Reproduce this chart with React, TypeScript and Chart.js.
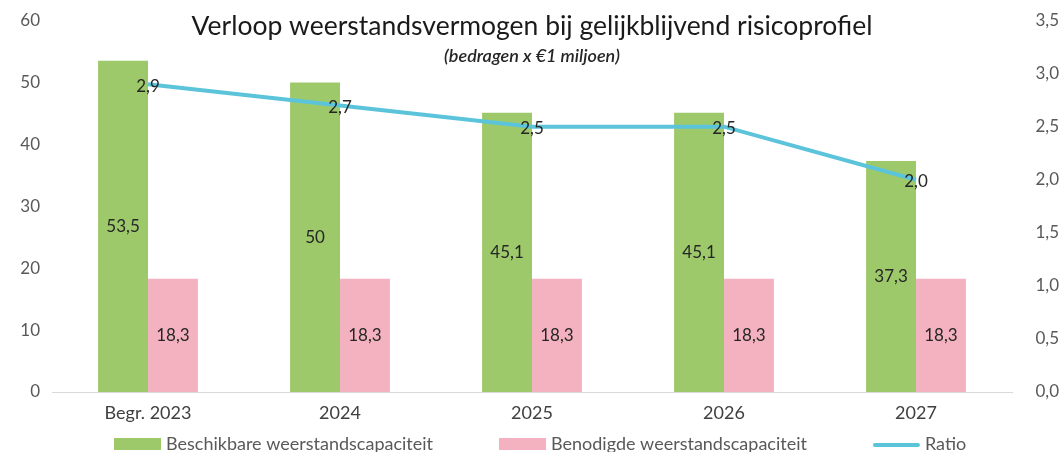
import React, { useEffect, useRef } from "react";
import { Chart, registerables } from "chart.js";

Chart.register(...registerables);

const categories = ["Begr. 2023", "2024", "2025", "2026", "2027"];
const beschikbaar = [53.5, 50, 45.1, 45.1, 37.3];
const benodigd = [18.3, 18.3, 18.3, 18.3, 18.3];
const ratio = [2.9, 2.7, 2.5, 2.5, 2.0];
const leftTicks = [0, 10, 20, 30, 40, 50, 60];
const rightTicks = [0, 0.5, 1, 1.5, 2, 2.5, 3, 3.5];

const TITLE = "Verloop weerstandsvermogen bij gelijkblijvend risicoprofiel";
const SUBTITLE = "(bedragen x €1 miljoen)";
const FONT = "Lato, 'Open Sans', sans-serif";

const GREEN = "#9DC96B";
const PINK = "#F4B2C0";
const BLUE = "#5BC4DA";

const fmt = (v: number, d: number) => v.toFixed(d).replace(".", ",");

const labelsPlugin = {
  id: "valueLabels",
  afterDatasetsDraw(chart: any) {
    const ctx = chart.ctx;
    ctx.save();
    ctx.textAlign = "center";
    ctx.textBaseline = "middle";
    ctx.fillStyle = "#262626";
    ctx.font = `17px ${FONT}`;
    chart.data.datasets.forEach((ds: any, di: number) => {
      const meta = chart.getDatasetMeta(di);
      meta.data.forEach((el: any, i: number) => {
        const v = ds.data[i];
        if (ds.type === "line") {
          ctx.fillText(fmt(v, 1), el.x, el.y + 2);
        } else {
          const txt = Number.isInteger(v) ? String(v) : fmt(v, 1);
          ctx.fillText(txt, el.x, (el.y + el.base) / 2);
        }
      });
    });
    ctx.restore();
  },
};

const titlePlugin = {
  id: "titleText",
  afterDraw(chart: any) {
    const ctx = chart.ctx;
    const cx = (chart.chartArea.left + chart.chartArea.right) / 2;
    ctx.save();
    ctx.textAlign = "center";
    ctx.textBaseline = "middle";
    ctx.fillStyle = "#1a1a1a";
    ctx.font = `26.5px ${FONT}`;
    ctx.fillText(TITLE, cx, 26);
    ctx.font = `italic 600 18px ${FONT}`;
    ctx.fillStyle = "#262626";
    ctx.fillText(SUBTITLE, cx, 56);
    ctx.restore();
  },
};

const legendPlugin = {
  id: "customLegend",
  afterDraw(chart: any) {
    const ctx = chart.ctx;
    const y = 444;
    let x = 114;
    const boxW = 47;
    ctx.save();
    ctx.font = `18px ${FONT}`;
    ctx.textBaseline = "middle";
    ctx.textAlign = "left";
    chart.data.datasets.forEach((ds: any) => {
      if (ds.type === "line") {
        ctx.strokeStyle = ds.borderColor;
        ctx.lineWidth = 4;
        ctx.lineCap = "round";
        ctx.beginPath();
        ctx.moveTo(x + 2, y + 1);
        ctx.lineTo(x + boxW - 2, y + 1);
        ctx.stroke();
      } else {
        ctx.fillStyle = ds.backgroundColor;
        ctx.fillRect(x, y - 6, boxW, 12);
      }
      ctx.fillStyle = "#595959";
      const tx = x + boxW + 5;
      ctx.fillText(ds.label, tx, y);
      x = tx + ctx.measureText(ds.label).width + 66;
    });
    ctx.restore();
  },
};

export default function App() {
  const ref = useRef<HTMLCanvasElement | null>(null);
  useEffect(() => {
    if (!ref.current) return;
    const chart = new Chart(ref.current, {
      type: "bar",
      data: {
        labels: categories,
        datasets: [
          {
            type: "bar",
            label: "Beschikbare weerstandscapaciteit",
            data: beschikbaar,
            backgroundColor: GREEN,
            yAxisID: "y",
            order: 1,
            categoryPercentage: 0.52,
            barPercentage: 1,
          },
          {
            type: "bar",
            label: "Benodigde weerstandscapaciteit",
            data: benodigd,
            backgroundColor: PINK,
            yAxisID: "y",
            order: 1,
            categoryPercentage: 0.52,
            barPercentage: 1,
          },
          {
            type: "line",
            label: "Ratio",
            data: ratio,
            borderColor: BLUE,
            backgroundColor: BLUE,
            borderWidth: 4,
            pointRadius: 0,
            tension: 0,
            yAxisID: "y1",
            order: 0,
          } as any,
        ],
      },
      options: {
        animation: false,
        responsive: true,
        maintainAspectRatio: false,
        layout: { padding: { top: 20, bottom: 30, left: 0, right: 4 } },
        plugins: {
          legend: { display: false },
          tooltip: { enabled: false },
          title: { display: false },
        },
        scales: {
          x: {
            grid: { display: false, drawTicks: false },
            border: { display: true, color: "#D9D9D9", width: 1 },
            ticks: {
              color: "#404040",
              font: { family: FONT, size: 18 },
              padding: 10,
              maxRotation: 0,
            },
            afterFit: (s: any) => {
              s.height = 30;
            },
          },
          y: {
            position: "left",
            min: 0,
            max: 60,
            afterBuildTicks: (s: any) => {
              s.ticks = leftTicks.map((v) => ({ value: v }));
            },
            grid: { display: false, drawTicks: false },
            border: { display: false },
            ticks: {
              color: "#595959",
              font: { family: FONT, size: 17, lineHeight: 1 },
              padding: 12,
              callback: (v: any) => String(v),
            },
            afterFit: (s: any) => {
              s.width = 52;
            },
          },
          y1: {
            position: "right",
            min: 0,
            max: 3.5,
            afterBuildTicks: (s: any) => {
              s.ticks = rightTicks.map((v) => ({ value: v }));
            },
            grid: { display: false, drawTicks: false },
            border: { display: false },
            ticks: {
              color: "#595959",
              font: { family: FONT, size: 17, lineHeight: 1 },
              padding: 0,
              crossAlign: "far",
              callback: (v: any) => fmt(Number(v), 1),
            },
            afterFit: (s: any) => {
              s.width = 47;
            },
          },
        },
      },
      plugins: [labelsPlugin, titlePlugin, legendPlugin],
    } as any);
    return () => chart.destroy();
  }, []);

  return (
    <div style={{ position: "fixed", left: 0, top: 0, width: 1063, height: 452, background: "#fff" }}>
      <canvas ref={ref} />
    </div>
  );
}
